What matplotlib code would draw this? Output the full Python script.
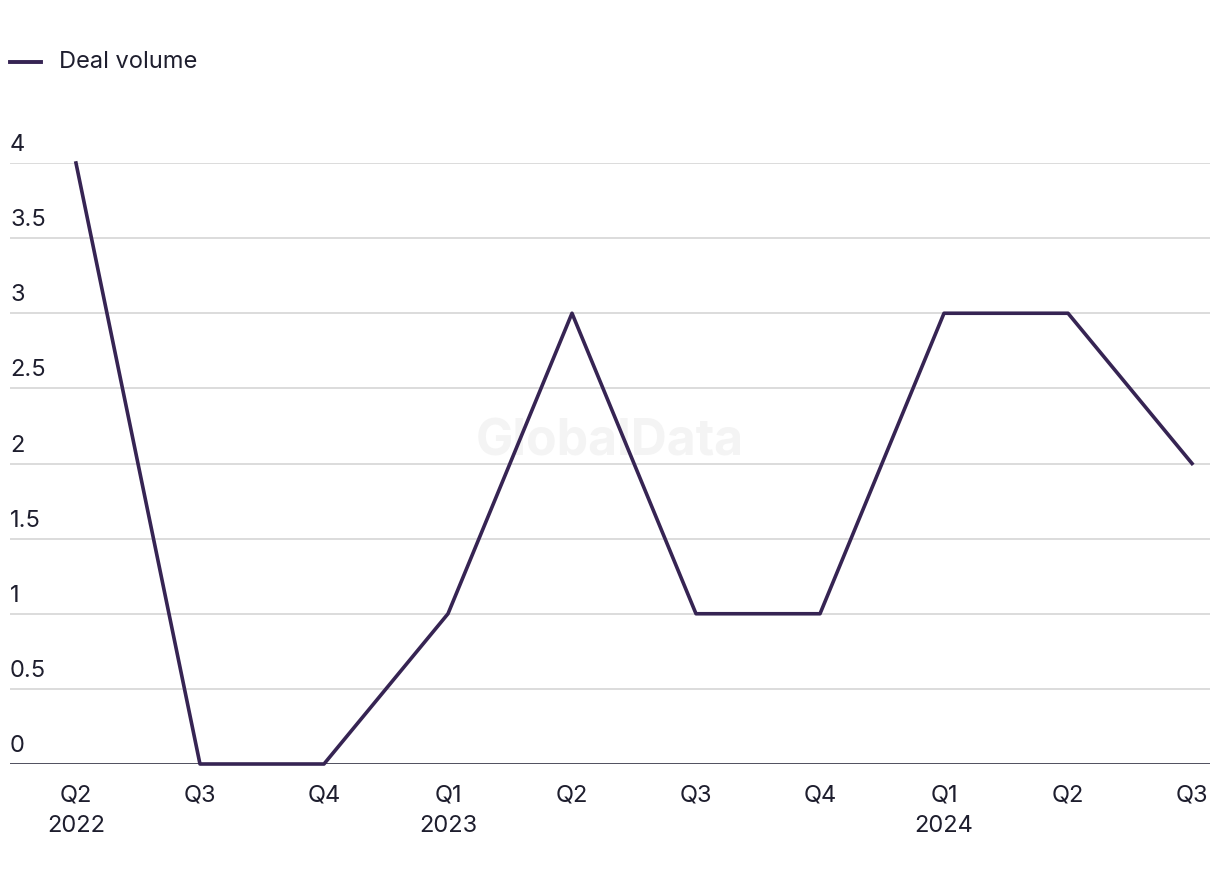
import matplotlib.pyplot as plt
from matplotlib.lines import Line2D

plt.rcParams['font.family'] = ['Inter', 'DejaVu Sans']

# datos del grafico
trimestres = ["Q2\n2022", "Q3", "Q4", "Q1\n2023", "Q2", "Q3", "Q4", "Q1\n2024", "Q2", "Q3"]
volumen = [4, 0, 0, 1, 3, 1, 1, 3, 3, 2]
ticks_y = [0, 0.5, 1, 1.5, 2, 2.5, 3, 3.5, 4]
etiquetas_y = ["0", "0.5", "1", "1.5", "2", "2.5", "3", "3.5", "4"]

color_linea = '#362453'
color_texto = '#1e1e2e'
tam = 17

fig = plt.figure(figsize=(12.2, 8.84), dpi=100)
ax = fig.add_axes([10 / 1220, 120 / 884, 1200 / 1220, 601 / 884])

x = list(range(len(trimestres)))
ax.plot(x, volumen, color=color_linea, linewidth=2.6, clip_on=False, zorder=3)

# limites para que coincidan las posiciones
ax.set_xlim(-0.532, 9.145)
ax.set_ylim(0, 4)

# lineas de grilla
for v in ticks_y[1:]:
    ax.axhline(v, color='#d9d9d9', linewidth=1.3, zorder=1)
ax.axhline(0, color='#1a1a2e', linewidth=1.8, zorder=2)

for s in ax.spines.values():
    s.set_visible(False)

ax.set_yticks([])
ax.set_xticks(x)
ax.set_xticklabels(trimestres, fontsize=tam, color=color_texto, linespacing=1.5)
ax.tick_params(axis='x', length=0, pad=15)

# etiquetas del eje y arriba de la grilla
for v, t in zip(ticks_y, etiquetas_y):
    ax.annotate(t, xy=(0, v), xycoords=('axes fraction', 'data'),
                xytext=(0, 5), textcoords='offset points',
                ha='left', va='bottom', fontsize=tam, color=color_texto)

# marca de agua
ax.text(0.5, 0.535, "GlobalData", transform=ax.transAxes, ha='center', va='center',
        fontsize=36, fontweight='bold', color='#f4f4f4', zorder=0)

# leyenda
fig.add_artist(Line2D([10 / 1220, 41 / 1220], [1 - 62 / 884, 1 - 62 / 884],
                      color=color_linea, linewidth=2.8, transform=fig.transFigure))
fig.text(59 / 1220, 1 - 62 / 884, "Deal volume", ha='left', va='center',
         fontsize=tam, color=color_texto)

fig.savefig('out.png', dpi=100)
